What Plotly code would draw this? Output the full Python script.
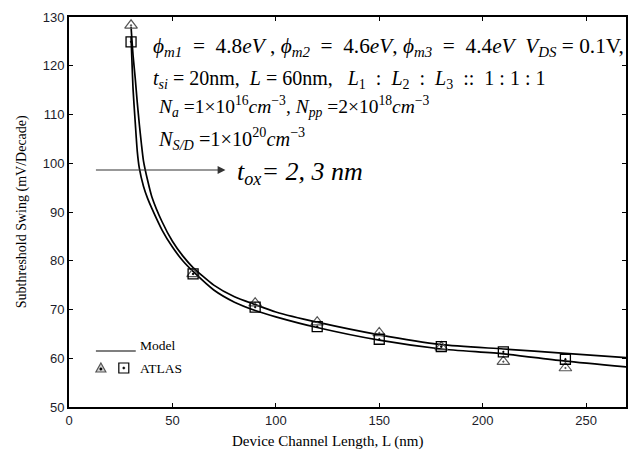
import plotly.graph_objects as go

# ---- data ----
L_model_a = [30, 31, 32, 33, 34, 35, 36, 38, 40, 45, 50, 55, 60, 70, 80, 90, 100, 120, 150, 180, 210, 240, 270]
ss_model_a = [128, 122, 117.5, 112.5, 108, 104, 100.5, 96.5, 93.2, 88, 84, 81, 78.6, 75, 72.6, 71, 69.5, 67.4, 64.8, 62.8, 61.9, 61.0, 60.1]

L_model_b = [30, 31, 32, 33, 34, 36, 38, 40, 45, 50, 55, 60, 70, 80, 90, 100, 120, 150, 180, 210, 240, 270]
ss_model_b = [126, 115, 108.5, 102.5, 99, 95.3, 92.8, 90.8, 86.3, 82.8, 80, 77.8, 74, 71.5, 69.8, 68.5, 66.3, 63.7, 61.9, 60.9, 59.4, 58.2]

L_atlas = [30, 60, 90, 120, 150, 180, 210, 240, 270]
ss_atlas_tri = [128.3, 77.3, 71.3, 67.4, 65.2, 62.3, 59.3, 58.0, 57.0]
ss_atlas_sq = [124.9, 77.3, 70.5, 66.5, 63.9, 62.4, 61.3, 59.8, 60.1]

x_ticks = [0, 50, 100, 150, 200, 250]
y_ticks = [50, 60, 70, 80, 90, 100, 110, 120, 130]

SERIF = "Liberation Serif, Times New Roman, serif"
SANS = "Liberation Sans, Arial, sans-serif"

fig = go.Figure()
for xs, ys in [(L_model_a, ss_model_a), (L_model_b, ss_model_b)]:
    fig.add_trace(go.Scatter(x=xs, y=ys, mode="lines",
                             line=dict(color="black", width=1.7, shape="spline", smoothing=0.6),
                             showlegend=False, hoverinfo="skip"))
fig.add_trace(go.Scatter(x=L_atlas, y=ss_atlas_tri, mode="markers", cliponaxis=False,
                         marker=dict(symbol="triangle-up-open-dot", size=11, color="#555",
                                     line=dict(width=1.2, color="#555")),
                         showlegend=False))
fig.add_trace(go.Scatter(x=L_atlas, y=ss_atlas_sq, mode="markers", cliponaxis=False,
                         marker=dict(symbol="square-open-dot", size=10, color="black",
                                     line=dict(width=1.3, color="black")),
                         showlegend=False))

W, H = 628, 450
ML, MR, MT, MB = 69, 0, 17, 43
PW, PH = W - ML - MR, H - MT - MB

def px(x):
    return (x - ML) / PW

def py(y):
    return (H - MB - y) / PH

ann = []
def text(x, y, s, size, anchor="left", font=SERIF, angle=0):
    ann.append(dict(x=px(x), y=py(y), xref="paper", yref="paper", text=s, showarrow=False,
                    xanchor=anchor, yanchor="middle", textangle=angle,
                    font=dict(family=font, size=size, color="black")))

text(151, 47, "<i>ϕ<sub>m1</sub></i>  =  4.8<i>eV</i> , <i>ϕ<sub>m2</sub></i>  =  4.6<i>eV</i>, "
              "<i>ϕ<sub>m3</sub></i>  =  4.4<i>eV</i>  <i>V<sub>DS</sub></i> = 0.1V,", 21.3)
text(151, 79, "<i>t<sub>si</sub></i> = 20nm,  <i>L</i> = 60nm,   <i>L</i><sub>1</sub>  :  <i>L</i><sub>2</sub>  :  "
              "<i>L</i><sub>3</sub>  ::  1 : 1 : 1", 20)
text(156, 107, "<i>N<sub>a</sub></i> =1×10<sup>16</sup><i>cm</i><sup>−3</sup>, <i>N<sub>pp</sub></i> =2×10<sup>18</sup><i>cm</i><sup>−3</sup>", 19.5)
text(156, 138, "<i>N<sub>S/D</sub></i> =1×10<sup>20</sup><i>cm</i><sup>−3</sup>", 20.3)
text(236, 173, "<i>t<sub>ox</sub>= 2, 3 nm</i>", 26)
text(138, 345, "Model", 13.5)
text(138, 368, "ATLAS", 13.5)
text(22, 212, "Subthreshold Swing (mV/Decade)", 14, anchor="center", angle=-90)
text(328, 442, "Device Channel Length, L (nm)", 15, anchor="center")

# arrow
ann.append(dict(x=px(226), y=py(170), xref="paper", yref="paper", ax=-131, ay=0,
                text="", showarrow=True, arrowhead=2,
                arrowsize=1.3, arrowwidth=1.2, arrowcolor="#333"))

shapes = []
# legend line
shapes.append(dict(type="line", xref="paper", yref="paper", x0=px(96), x1=px(136), y0=py(351), y1=py(351),
                   line=dict(color="black", width=1.2)))
# legend triangle
tx, ty = 101, 368
shapes.append(dict(type="path", xref="paper", yref="paper",
                   path=f"M {px(tx-5)},{py(ty+4)} L {px(tx+5)},{py(ty+4)} L {px(tx)},{py(ty-5)} Z",
                   line=dict(color="#555", width=1.2), fillcolor="rgba(180,180,180,0.6)"))
shapes.append(dict(type="circle", xref="paper", yref="paper", x0=px(tx-1.2), x1=px(tx+1.2),
                   y0=py(ty+2.2), y1=py(ty-0.2), line=dict(color="black", width=0.5), fillcolor="black"))
# legend square
sx, sy = 124, 368
shapes.append(dict(type="rect", xref="paper", yref="paper", x0=px(sx-5), x1=px(sx+5), y0=py(sy+5), y1=py(sy-5),
                   line=dict(color="black", width=1.2)))
shapes.append(dict(type="circle", xref="paper", yref="paper", x0=px(sx-1.1), x1=px(sx+1.1),
                   y0=py(sy+1.1), y1=py(sy-1.1), line=dict(color="black", width=0.5), fillcolor="black"))

axis_common = dict(showgrid=False, zeroline=False, showline=True, linecolor="black", linewidth=1.8,
                   mirror="ticks", ticks="inside", ticklen=4, tickcolor="black",
                   tickfont=dict(family=SANS, size=13, color="#1c1c2a"))
fig.update_layout(
    width=W, height=H, margin=dict(l=ML, r=MR, t=MT, b=MB),
    paper_bgcolor="white", plot_bgcolor="white",
    xaxis=dict(range=[0, 269.3], tickvals=x_ticks, **axis_common),
    yaxis=dict(range=[50, 130], tickvals=y_ticks, **axis_common),
    annotations=ann, shapes=shapes, showlegend=False,
)
fig.write_html("out.html")
